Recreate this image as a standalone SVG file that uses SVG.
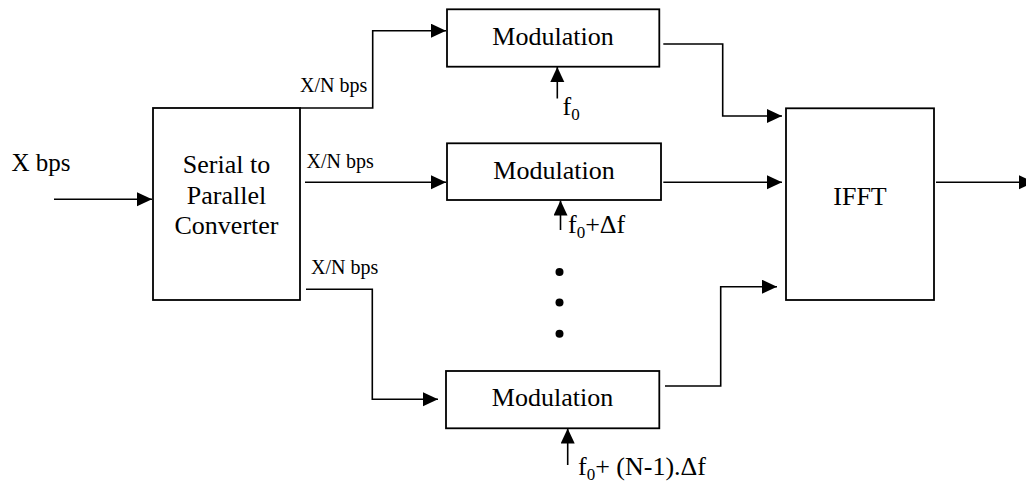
<svg xmlns="http://www.w3.org/2000/svg" width="1026" height="482" viewBox="0 0 1026 482">
<defs>
<marker id="ah" markerUnits="userSpaceOnUse" markerWidth="18" markerHeight="16" refX="15" refY="7" orient="auto">
<path d="M0,0 L15,7 L0,14 z" fill="#000"/>
</marker>
<style>
.box{fill:#fff;stroke:#000;stroke-width:1.8}
.ar{fill:none;stroke:#000;stroke-width:1.6;marker-end:url(#ah)}
text{font-family:"Liberation Serif","Times New Roman",serif;fill:#000}
</style>
</defs>
<rect width="1026" height="482" fill="#fff"/>

<g id="connectors">
<path class="ar" d="M54,199.3 H152"/>
<path class="ar" d="M300,108 H372.7 V30.7 H446"/>
<path class="ar" d="M305,182.3 H446"/>
<path class="ar" d="M306,289.3 H372.3 V399.3 H438"/>
<path class="ar" d="M557.3,98.5 V67"/>
<path class="ar" d="M560.5,230 V200.5"/>
<path class="ar" d="M567.7,465 V428.5"/>
<path class="ar" d="M663.3,44 H722.7 V116 H782"/>
<path class="ar" d="M663.3,182.3 H782"/>
<path class="ar" d="M665,386 H720.7 V286.7 H777"/>
<path class="ar" d="M936,182.3 H1034"/>
</g>

<g id="input-label">
<text x="11.5" y="170.5" font-size="25">X bps</text>
</g>

<g id="serial-to-parallel">
<rect class="box" x="153" y="108" width="147" height="192"/>
<text x="226.5" y="173.3" text-anchor="middle" font-size="26">Serial to</text>
<text x="226.5" y="203.8" text-anchor="middle" font-size="26">Parallel</text>
<text x="226.5" y="234" text-anchor="middle" font-size="26">Converter</text>
</g>

<g id="rate-labels">
<text x="300" y="91.7" font-size="20">X/N bps</text>
<text x="306.5" y="167.7" font-size="20">X/N bps</text>
<text x="311" y="274" font-size="20">X/N bps</text>
</g>

<g id="mod1">
<rect class="box" x="447" y="9.3" width="212.3" height="57.4"/>
<text x="553" y="44.5" text-anchor="middle" font-size="26">Modulation</text>
<text x="562.5" y="115" font-size="26">f<tspan font-size="17" dy="5">0</tspan></text>
</g>

<g id="mod2">
<rect class="box" x="447" y="143.3" width="214" height="56.7"/>
<text x="554" y="178.5" text-anchor="middle" font-size="26">Modulation</text>
<text x="568" y="233" font-size="26">f<tspan font-size="17" dy="5">0</tspan><tspan dy="-5">+Δf</tspan></text>
</g>

<g id="dots">
<circle cx="559.5" cy="272" r="4"/>
<circle cx="559.5" cy="302.5" r="4"/>
<circle cx="559.5" cy="333.7" r="4"/>
</g>

<g id="mod3">
<rect class="box" x="446" y="371" width="213.3" height="57.3"/>
<text x="552.5" y="406" text-anchor="middle" font-size="26">Modulation</text>
<text x="578" y="475" font-size="26">f<tspan font-size="17" dy="5">0</tspan><tspan dy="-5">+ (N-1).Δf</tspan></text>
</g>

<g id="ifft">
<rect class="box" x="786" y="108.3" width="148" height="191.7"/>
<text x="860" y="205" text-anchor="middle" font-size="26">IFFT</text>
</g>
</svg>
